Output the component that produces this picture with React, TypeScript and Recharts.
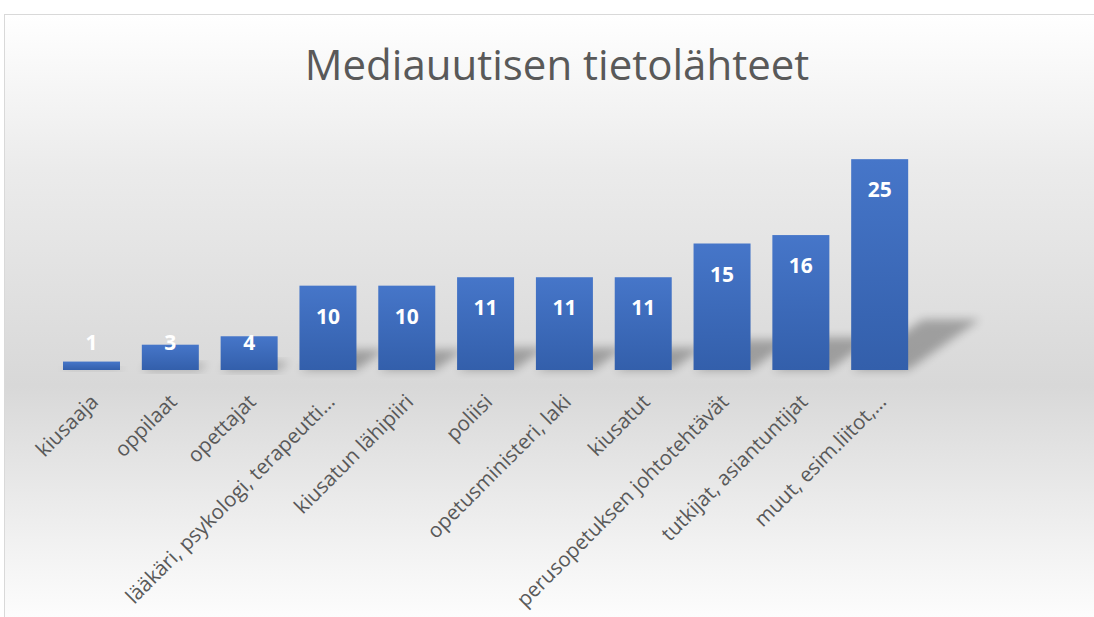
import React from 'react';
import { BarChart, Bar, XAxis, YAxis, LabelList } from 'recharts';

const categories = [
  'kiusaaja',
  'oppilaat',
  'opettajat',
  'lääkäri, psykologi, terapeutti…',
  'kiusatun lähipiiri',
  'poliisi',
  'opetusministeri, laki',
  'kiusatut',
  'perusopetuksen johtotehtävät',
  'tutkijat, asiantuntijat',
  'muut, esim.liitot,…',
];
const counts = [1, 3, 4, 10, 10, 11, 11, 11, 15, 16, 25];

const data = categories.map((name, i) => ({ name, value: counts[i] }));

const FONT = '"Open Sans", "Noto Sans", sans-serif';

// bar with a soft perspective shadow falling to the upper right
function ShadowBar(props: any) {
  const { x, y, width, height } = props;
  if (!height || height <= 0) return null;
  const base = y + height;
  const dx = height * 0.34;
  const dy = height * 0.24;
  const pts = [
    [x, base],
    [x + width, base],
    [x + width + dx, base - dy],
    [x + dx, base - dy],
  ]
    .map((p) => p.join(','))
    .join(' ');
  return (
    <g>
      <polygon points={pts} fill="#000" opacity={0.28} filter="url(#barShadow)" />
      <rect x={x} y={y} width={width} height={height} fill="url(#barFill)" />
    </g>
  );
}

function ValueLabel(props: any) {
  const { x, y, width, height, value } = props;
  const base = y + height;
  const cy = Math.min(y + 30, base - 28);
  return (
    <text
      x={x + width / 2}
      y={cy}
      fill="#fff"
      fontFamily={FONT}
      fontWeight={700}
      fontSize={21}
      textAnchor="middle"
      dominantBaseline="central"
    >
      {value}
    </text>
  );
}

function AngledTick(props: any) {
  const { x, y, payload } = props;
  const px = x + 3;
  const py = y + 28;
  return (
    <text
      x={px}
      y={py}
      dy="0.35em"
      transform={`rotate(-45, ${px}, ${py})`}
      textAnchor="end"
      fill="#595959"
      fontFamily={FONT}
      fontSize={20.5}
    >
      {payload.value}
    </text>
  );
}

export default function App() {
  return (
    <div style={{ position: 'absolute', left: 0, top: 0, width: 1094, height: 617, overflow: 'hidden', background: '#fff' }}>
      <div
        style={{
          position: 'absolute',
          left: 4,
          top: 14,
          width: 1104,
          height: 620,
          border: '1px solid #d9d9d9',
          boxSizing: 'border-box',
          background: 'linear-gradient(to bottom, #ffffff 0%, #ebebeb 25%, #d8d8d8 60%, #f2f2f2 86%, #ffffff 100%)',
        }}
      >
        <div
          style={{
            position: 'absolute',
            left: 0,
            top: 28,
            width: 1104,
            textAlign: 'center',
            fontFamily: FONT,
            fontSize: 42,
            lineHeight: '42px',
            color: '#595959',
          }}
        >
          Mediauutisen tietolähteet
        </div>
        <div style={{ position: 'absolute', left: -1, top: -1 }}>
          <BarChart
            width={1104}
            height={603}
            data={data}
            margin={{ top: 103, right: 189, bottom: 0, left: 48 }}
            barCategoryGap={11}
          >
            <defs>
              <linearGradient id="barFill" x1="0" y1="0" x2="0" y2="1">
                <stop offset="0%" stopColor="#4676c9" />
                <stop offset="100%" stopColor="#335fab" />
              </linearGradient>
              <filter id="barShadow" x="-50%" y="-50%" width="200%" height="200%">
                <feGaussianBlur stdDeviation="5" />
              </filter>
            </defs>
            <XAxis
              dataKey="name"
              axisLine={false}
              tickLine={false}
              interval={0}
              height={247}
              tick={<AngledTick />}
              tickSize={0}
              tickMargin={0}
            />
            <YAxis hide domain={[0, 30]} />
            <Bar dataKey="value" shape={<ShadowBar />} isAnimationActive={false}>
              <LabelList dataKey="value" content={<ValueLabel />} />
            </Bar>
          </BarChart>
        </div>
      </div>
    </div>
  );
}
